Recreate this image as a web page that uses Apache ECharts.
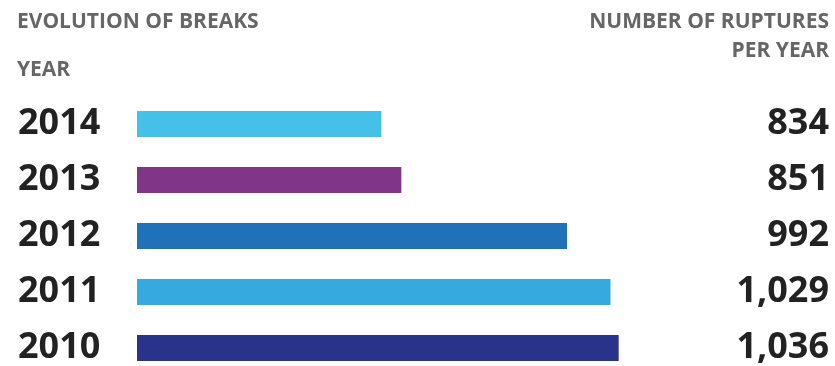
<!DOCTYPE html>
<html>
<head>
<meta charset="utf-8">
<script src="https://cdn.jsdelivr.net/npm/echarts@6/dist/echarts.min.js"></script>
<style>html,body{margin:0;padding:0;background:#fff;overflow:hidden}#c{width:835px;height:376px}</style>
</head>
<body>
<div id="c"></div>
<script>
// Data (bottom to top)
const years = ['2010', '2011', '2012', '2013', '2014'];
const ruptures = [1036, 1029, 992, 851, 834];
const barColors = ['#29338A', '#36AADF', '#1F71BA', '#813587', '#45C0E8'];
const titleLeft = 'EVOLUTION OF BREAKS';
const subLeft = 'YEAR';
const titleRight1 = 'NUMBER OF RUPTURES';
const titleRight2 = 'PER YEAR';

const valueLabels = ruptures.map(v => v.toLocaleString('en-US'));
const chart = echarts.init(document.getElementById('c'), null, {renderer: 'canvas'});
const headStyle = {fontFamily: 'Open Sans', fontWeight: 700, fontSize: 21, color: '#666666', lineHeight: 26};
chart.setOption({
  animation: false,
  title: [
    {text: titleLeft, left: 17, top: 9, padding: 0, textStyle: headStyle},
    {text: subLeft, left: 17, top: 57, padding: 0, textStyle: headStyle},
    {text: titleRight1, right: 6, top: 9, padding: 0, textStyle: headStyle},
    {text: titleRight2, right: 6, top: 38, padding: 0, textStyle: headStyle}
  ],
  grid: {left: 137, top: 96, right: 6, bottom: 0, containLabel: false},
  xAxis: {type: 'value', min: 626, max: 1215, show: false, splitLine: {show: false}},
  yAxis: [
    {type: 'category', data: years, position: 'left',
     axisLine: {show: false}, axisTick: {show: false},
     axisLabel: {align: 'left', margin: 119, fontFamily: 'Open Sans', fontWeight: 700, fontSize: 36, color: '#222222'}},
    {type: 'category', data: valueLabels, position: 'right',
     axisLine: {show: false}, axisTick: {show: false},
     axisLabel: {align: 'right', margin: 0, fontFamily: 'Open Sans', fontWeight: 700, fontSize: 36, color: '#222222'}}
  ],
  series: [{
    type: 'bar', barWidth: 26, yAxisIndex: 0,
    data: ruptures.map((v, i) => ({value: v, itemStyle: {color: barColors[i]}}))
  }]
});
</script>
</body>
</html>
